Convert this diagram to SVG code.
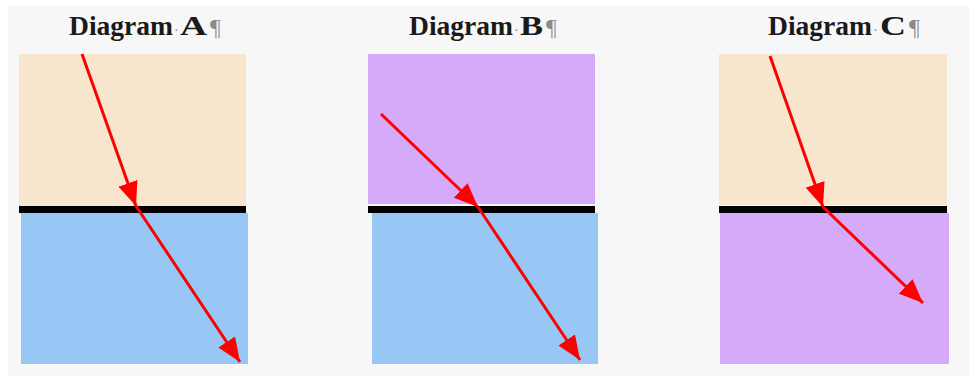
<svg xmlns="http://www.w3.org/2000/svg" width="969" height="376" viewBox="0 0 969 376">
<defs>
<style>
.title{font-family:"Liberation Serif","Times New Roman",serif;font-weight:bold;font-size:28px;fill:#1a1a1a}
.mark{font-family:"Liberation Serif","Times New Roman",serif;font-weight:normal;fill:#8a8a8a}
.peach{fill:#f8e5cd}
.purple{fill:#d5aaf8}
.blue{fill:#98c7f6}
.iface{fill:#000}
.ray{stroke:#ff0000;stroke-width:3;fill:none;marker-end:url(#ah)}
</style>
<marker id="ah" markerUnits="userSpaceOnUse" markerWidth="24" markerHeight="20" viewBox="0 0 24 20" refX="24" refY="10" orient="auto">
<path d="M0,0 L24,10 L0,20 Z" fill="#ff0000"/>
</marker>
</defs>
<rect x="0" y="0" width="969" height="376" fill="#ffffff"/>
<rect x="8" y="6" width="961" height="370" fill="#f7f7f7"/>

<g id="diagramA">
<text class="title" y="35"><tspan x="69" textLength="104" lengthAdjust="spacingAndGlyphs">Diagram</tspan><tspan class="mark" x="174" font-size="14">·</tspan><tspan x="180" textLength="27" lengthAdjust="spacingAndGlyphs">A</tspan><tspan class="mark" x="210" font-size="24">¶</tspan></text>
<rect class="peach" x="19" y="54" width="227" height="152"/>
<rect class="blue" x="21" y="213" width="227" height="151"/>
<rect class="iface" x="19" y="206" width="227" height="7"/>
</g>

<g id="diagramB">
<text class="title" y="35"><tspan x="409" textLength="104" lengthAdjust="spacingAndGlyphs">Diagram</tspan><tspan class="mark" x="514" font-size="14">·</tspan><tspan x="520" textLength="23" lengthAdjust="spacingAndGlyphs">B</tspan><tspan class="mark" x="546" font-size="24">¶</tspan></text>
<rect class="purple" x="368" y="54" width="227" height="150"/>
<rect class="blue" x="372" y="213" width="226" height="151"/>
<rect class="iface" x="368" y="206" width="227" height="7"/>
</g>

<g id="diagramC">
<text class="title" y="35"><tspan x="768" textLength="104" lengthAdjust="spacingAndGlyphs">Diagram</tspan><tspan class="mark" x="873" font-size="14">·</tspan><tspan x="880" textLength="26" lengthAdjust="spacingAndGlyphs">C</tspan><tspan class="mark" x="909" font-size="24">¶</tspan></text>
<rect class="peach" x="719" y="54" width="228" height="151"/>
<rect class="purple" x="720" y="213" width="229" height="151"/>
<rect class="iface" x="719" y="206" width="228" height="7"/>
</g>

<g id="connectors">
<line class="ray" x1="82" y1="54" x2="136" y2="206"/>
<line class="ray" x1="136" y1="206" x2="240" y2="362"/>
<line class="ray" x1="381" y1="114" x2="478" y2="207"/>
<line class="ray" x1="478" y1="207" x2="580" y2="360"/>
<line class="ray" x1="770" y1="56" x2="823" y2="207"/>
<line class="ray" x1="823" y1="207" x2="923" y2="303"/>
</g>
</svg>
